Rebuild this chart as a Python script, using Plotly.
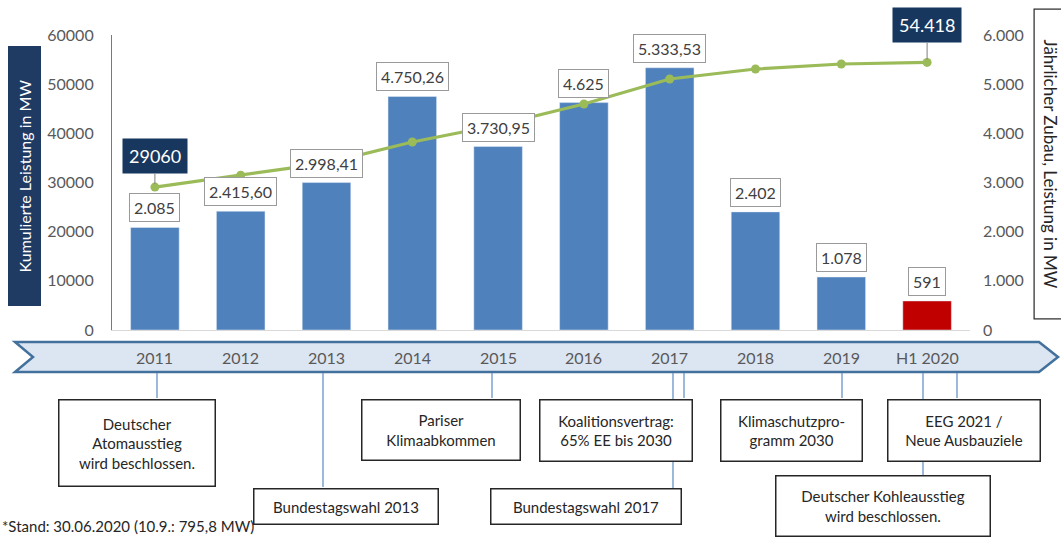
import plotly.graph_objects as go

years = ["2011", "2012", "2013", "2014", "2015", "2016", "2017", "2018", "2019", "H1 2020"]
zubau = [2085, 2415.60, 2998.41, 4750.26, 3730.95, 4625, 5333.53, 2402, 1078, 591]
zubau_text = ["2.085", "2.415,60", "2.998,41", "4.750,26", "3.730,95", "4.625", "5.333,53", "2.402", "1.078", "591"]
kumuliert = [29060, 31500, 33950, 38240, 41700, 45970, 51050, 53080, 54100, 54418]
kum_text = {0: "29060", 9: "54.418"}

events = [
    ("Deutscher<br>Atomausstieg<br>wird beschlossen.", 137, 443, 158, 88),
    ("Bundestagswahl 2013", 346, 506, 186, 37),
    ("Pariser<br>Klimaabkommen", 441, 430, 160, 62),
    ("Bundestagswahl 2017", 586, 506, 192, 37),
    ("Koalitionsvertrag:<br>65% EE bis 2030", 616, 430, 154, 63),
    ("Klimaschutzpro-<br>gramm 2030", 791, 430, 143, 63),
    ("EEG 2021 /<br>Neue Ausbauziele", 964, 430, 154, 63),
    ("Deutscher Kohleausstieg<br>wird beschlossen.", 883, 506, 216, 62),
]
# connector lines: x pixel, bottom pixel
connectors = [(157, 398), (323, 487), (492, 398), (673, 488), (684, 398), (842, 398), (923, 475), (957, 398)]

W, H = 1061, 537
L, R, T, B = 112, 970, 35, 330

def px(x):
    return (x - L) / (R - L)

def py(y):
    return (B - y) / (B - T)

FONT = "Lato"
bar_colors = ["#4F81BD"] * (len(years) - 1) + ["#C00000"]

fig = go.Figure()
fig.add_trace(go.Bar(x=years, y=zubau, marker_color=bar_colors, width=0.566, yaxis="y"))
fig.add_trace(go.Scatter(x=years, y=kumuliert, mode="lines+markers", yaxis="y2",
                         line=dict(color="#9BBB59", width=3.2),
                         marker=dict(color="#9BBB59", size=9)))

ann = []
# bar labels
for i, (v, t) in enumerate(zip(zubau, zubau_text)):
    ann.append(dict(x=i, y=v, xref="x", yref="y", text=t, showarrow=False,
                    xanchor="center", yanchor="bottom", yshift=5, bgcolor="white", bordercolor="#9A9A9A",
                    borderwidth=1, borderpad=4, font=dict(family=FONT, size=16, color="#404040")))
# cumulative labels
for i, t in kum_text.items():
    ay = -31 if i == 0 else -37
    ann.append(dict(x=i, y=kumuliert[i], xref="x", yref="y2", text=t, showarrow=True,
                    arrowhead=0, arrowwidth=1, arrowcolor="#7F7F7F", ax=0, ay=ay, standoff=3,
                    bgcolor="#17375E", borderpad=6, font=dict(family=FONT, size=18, color="white")))
# year labels on the band
for i, y in enumerate(years):
    ann.append(dict(x=i, y=py(357), xref="x", yref="paper", text=y, showarrow=False,
                    xanchor="center", yanchor="middle",
                    font=dict(family=FONT, size=16, color="#595959")))
# event boxes
for text, cx, cy, w, h in events:
    ann.append(dict(x=px(cx), y=py(cy), xref="paper", yref="paper", text=text, showarrow=False,
                    xanchor="center", yanchor="middle",
                    width=w - 3, height=h - 3, borderpad=0, bgcolor="white", bordercolor="#262626",
                    borderwidth=1.5, align="center", valign="middle",
                    font=dict(family=FONT, size=15, color="#262626")))
# axis titles
ann.append(dict(x=px(24), y=py(176.5), xref="paper", yref="paper", text="Kumulierte Leistung in MW",
                showarrow=False, textangle=-90, xanchor="center", yanchor="middle",
                width=259, height=32, borderpad=0, bgcolor="#1F3B63",
                font=dict(family=FONT, size=16, color="white")))
ann.append(dict(x=px(1051), y=py(163.5), xref="paper", yref="paper", text="Jährlicher Zubau, Leistung in MW",
                showarrow=False, textangle=90, xanchor="center", yanchor="middle",
                width=309, height=32, borderpad=0, bgcolor="white",
                bordercolor="#262626", borderwidth=1.2, font=dict(family=FONT, size=17, color="#262626")))
ann.append(dict(x=px(0), y=py(526), xref="paper", yref="paper", xanchor="left", yanchor="middle",
                text="*Stand: 30.06.2020 (10.9.: 795,8 MW)", showarrow=False,
                font=dict(family=FONT, size=15, color="#262626")))

shapes = []
band = "M {} {} L {} {} L {} {} L {} {} L {} {} L {} {} Z".format(
    px(15), py(342), px(1039), py(342), px(1058), py(357),
    px(1039), py(372), px(15), py(372), px(33), py(357))
shapes.append(dict(type="path", path=band, xref="paper", yref="paper",
                   fillcolor="#DCE6F2", line=dict(color="#41719C", width=2.5)))
for x, yb in connectors:
    shapes.append(dict(type="line", xref="paper", yref="paper", x0=px(x), x1=px(x),
                       y0=py(373), y1=py(yb), line=dict(color="#5B8BC4", width=1.2)))

fig.update_layout(
    width=W, height=H, margin=dict(l=L, r=W - R, t=T, b=H - B),
    paper_bgcolor="white", plot_bgcolor="white", showlegend=False,
    separators=",.",
    font=dict(family=FONT, size=16, color="#595959"),
    xaxis=dict(type="category", range=[-0.5, 9.5], showticklabels=False, showgrid=False,
               showline=True, linecolor="#D9D9D9", linewidth=1, zeroline=False, fixedrange=True),
    yaxis=dict(side="right", range=[0, 6000], tickvals=[0, 1000, 2000, 3000, 4000, 5000, 6000],
               tickformat=",d", showgrid=False, zeroline=False, showline=False,
               ticklabelstandoff=12, tickfont=dict(family=FONT, size=16, color="#595959")),
    yaxis2=dict(side="left", overlaying="y", range=[0, 60000],
                tickvals=[0, 10000, 20000, 30000, 40000, 50000, 60000], tickformat="d",
                showgrid=False, zeroline=False, showline=True, linecolor="#4F81BD", linewidth=1.2,
                ticklabelstandoff=14, tickfont=dict(family=FONT, size=16, color="#595959")),
    annotations=ann, shapes=shapes,
)

fig.write_html("out.html", config={"displayModeBar": False},
               post_script="document.body.style.margin='0';")
